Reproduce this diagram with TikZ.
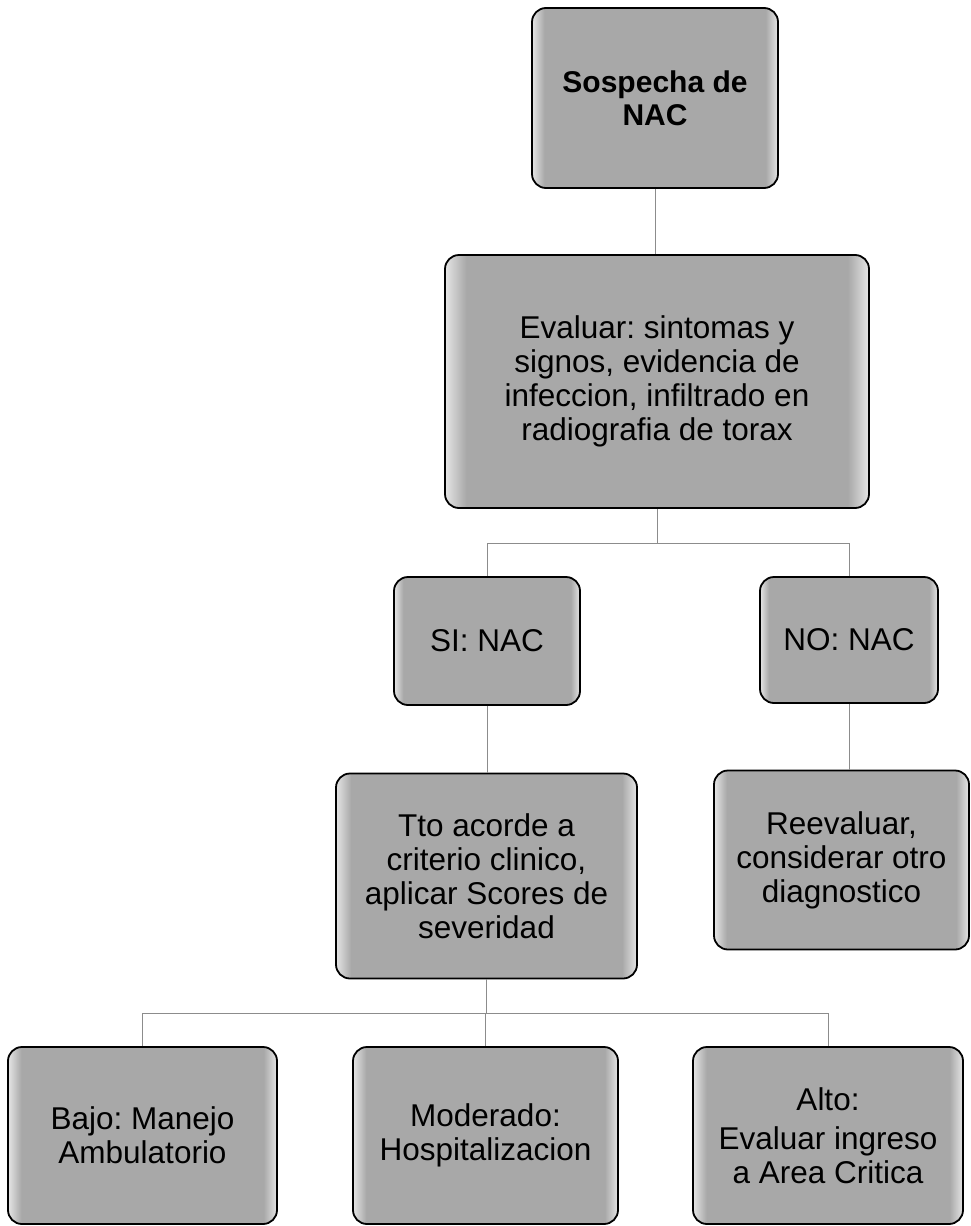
\documentclass[tikz,border=0pt]{standalone}
\usepackage{fontspec}
\setmainfont{Liberation Sans}
\frenchspacing
\usetikzlibrary{positioning}

% grey fill, lighter towards the left and right edges
\pgfdeclarehorizontalshading{boxfill}{100bp}{%
  color(0bp)=(black!10); color(25bp)=(black!10);
  color(27.5bp)=(black!34); color(72.5bp)=(black!34);
  color(75bp)=(black!10); color(100bp)=(black!10)}

\tikzset{
  box/.style={draw=black, line width=1.8pt, rounded corners=14pt,
    shading=boxfill, align=center, inner sep=4pt,
    font=\fontsize{31.5}{34}\selectfont, text=black},
  link/.style={draw=black!45, line width=0.8pt}
}

\begin{document}
\begin{tikzpicture}[x=1pt, y=-1pt]
\useasboundingbox (0,0) rectangle (971,1226);

\node[box, font=\fontsize{30}{33}\selectfont\bfseries,
  minimum width=246pt, minimum height=180pt] (sosp) at (655,98)
  {Sospecha de\\NAC};
\node[box, minimum width=424pt, minimum height=253pt] (eval) at (657,381.5)
  {Evaluar: sintomas y\\signos, evidencia de\\infeccion, infiltrado en\\radiografia de torax};
\node[box, minimum width=186pt, minimum height=128pt] (si) at (487,641) {SI: NAC};
\node[box, minimum width=178pt, minimum height=126pt] (no) at (849,640) {NO: NAC};
\node[box, minimum width=301pt, minimum height=205pt] (tto) at (486.5,876)
  {Tto acorde a\\criterio clinico,\\aplicar Scores de\\severidad};
\node[box, minimum width=255pt, minimum height=179pt] (ree) at (841.5,860)
  {Reevaluar,\\considerar otro\\diagnostico};
\node[box, minimum width=269pt, minimum height=177pt] (bajo) at (142.5,1135.5)
  {Bajo: Manejo\\Ambulatorio};
\node[box, minimum width=265pt, minimum height=177pt] (mod) at (485.5,1135.5)
  {Moderado:\\Hospitalizacion};
\node[box, minimum width=270pt, minimum height=177pt] (alto) at (828,1135.5)
  {Alto:\\[5pt]Evaluar ingreso\\a Area Critica};

% branch points of the tree
\coordinate (j1) at (657,543);
\coordinate (j2) at (486.5,1013);

\draw[link] (sosp.south) -- (sosp.south |- eval.north);
\draw[link] (eval.south) -- (j1);
\draw[link] (si.north) |- (j1);
\draw[link] (no.north) |- (j1);
\draw[link] (si.south) -- (si.south |- tto.north);
\draw[link] (no.south) -- (no.south |- ree.north);
\draw[link] (tto.south) -- (j2);
\draw[link] (bajo.north) |- (j2);
\draw[link] (mod.north) |- (j2);
\draw[link] (alto.north) |- (j2);
\end{tikzpicture}
\end{document}
